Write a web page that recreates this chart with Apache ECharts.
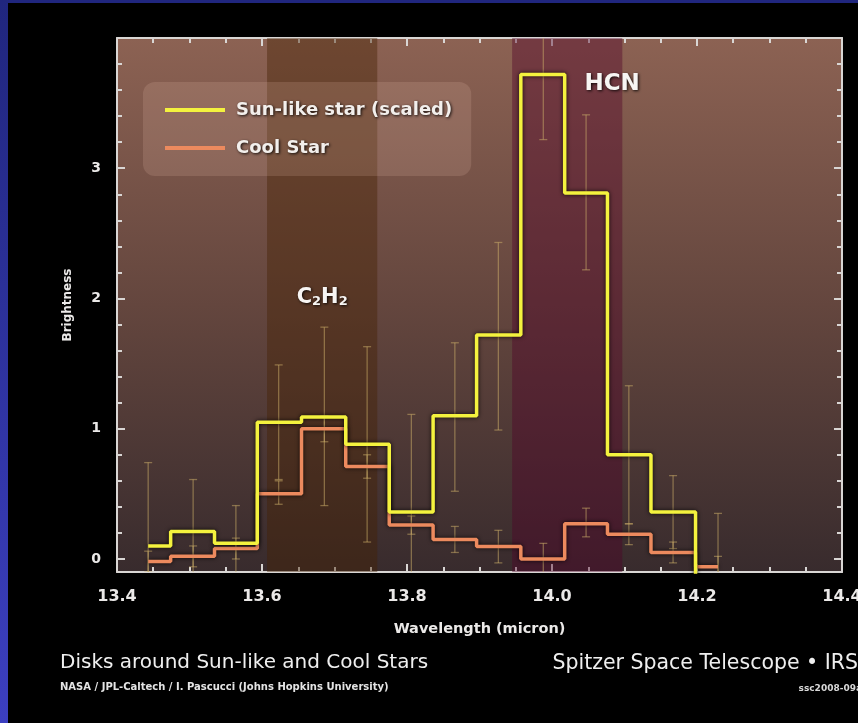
<!DOCTYPE html>
<html>
<head>
<meta charset="utf-8">
<script src="https://cdn.jsdelivr.net/npm/echarts@6/dist/echarts.min.js"></script>
<style>
html,body{margin:0;padding:0;background:#000;}
#c{width:858px;height:723px;}
</style>
</head>
<body>
<div id="c"></div>
<script>
// ---- data ----
const wavelength = [13.443, 13.505, 13.564, 13.623, 13.686, 13.745, 13.806, 13.866, 13.926, 13.988, 14.047, 14.106, 14.167, 14.229];
const sunLike    = [0.10, 0.21, 0.12, 1.05, 1.09, 0.88, 0.36, 1.10, 1.72, 3.72, 2.81, 0.80, 0.36, -0.30];
const coolStar   = [-0.02, 0.02, 0.08, 0.50, 1.00, 0.71, 0.26, 0.15, 0.095, 0.00, 0.27, 0.19, 0.05, -0.06];
const sunErrLow  = [-0.54, -0.19, -0.17, 0.61, 0.41, 0.13, -0.39, 0.52, 0.99, 3.22, 2.22, 0.27, 0.08, -0.95];
const sunErrHigh = [0.74, 0.61, 0.41, 1.49, 1.78, 1.63, 1.11, 1.66, 2.43, 4.22, 3.41, 1.33, 0.64, 0.35];
const coolErrLow  = [-0.10, -0.06, 0.00, 0.42, 0.90, 0.62, 0.19, 0.05, -0.03, -0.12, 0.17, 0.11, -0.03, -0.14];
const coolErrHigh = [0.06, 0.10, 0.16, 0.60, 1.10, 0.80, 0.33, 0.25, 0.22, 0.12, 0.39, 0.27, 0.13, 0.02];
const bandNames  = ['C2H2', 'HCN'];
const bandStart  = [13.607, 13.945];
const bandEnd    = [13.759, 14.097];
const xTickLabels = [13.4, 13.6, 13.8, 14.0, 14.2, 14.4];
const yTickLabels = [0, 1, 2, 3];
const yMinorTicks = [0.2, 0.4, 0.6, 0.8, 1.2, 1.4, 1.6, 1.8, 2.2, 2.4, 2.6, 2.8, 3.2, 3.4, 3.6, 3.8];
const seriesNames = ['Sun-like star (scaled)', 'Cool Star'];
const annotationText = ['HCN', 'C2H2'];
const annotationX = [14.083, 13.683];
const annotationY = [3.65, 2.01];

const FONT = "'DejaVu Sans', 'Liberation Sans', sans-serif";
const Y_MIN = -0.1, Y_MAX = 4.0;
const frameColor = '#d9d6d4';

const chart = echarts.init(document.getElementById('c'), null, {renderer: 'canvas'});

const bandColors = ['rgba(70,33,2,0.42)', 'rgba(80,0,40,0.40)'];
const bandData = bandStart.map((s, i) => [s, bandEnd[i], i]);
const sunErr = wavelength.map((w, i) => [w, sunErrLow[i], sunErrHigh[i]]);
const coolErr = wavelength.map((w, i) => [w, coolErrLow[i], coolErrHigh[i]]);

function errRender(color) {
  return function (params, api) {
    const x = api.value(0), lo = api.value(1), hi = api.value(2);
    const a = api.coord([x, lo]), b = api.coord([x, hi]);
    const cw = 4;
    const st = {stroke: color, lineWidth: 1.3};
    return {
      type: 'group',
      children: [
        {type: 'line', shape: {x1: a[0], y1: a[1], x2: b[0], y2: b[1]}, style: st},
        {type: 'line', shape: {x1: a[0] - cw, y1: a[1], x2: a[0] + cw, y2: a[1]}, style: st},
        {type: 'line', shape: {x1: b[0] - cw, y1: b[1], x2: b[0] + cw, y2: b[1]}, style: st}
      ]
    };
  };
}

const axisLineStyle = {show: true, onZero: false, lineStyle: {color: frameColor, width: 2}};
const shadow = {textShadowColor: 'rgba(0,0,0,0.85)', textShadowBlur: 3, textShadowOffsetX: 1, textShadowOffsetY: 1};

const yAxisCommon = {type: 'value', min: Y_MIN, max: Y_MAX, splitLine: {show: false}};

const option = {
  backgroundColor: '#000',
  animation: false,
  grid: {
    left: 117, top: 38, width: 725, height: 534,
    containLabel: false, outerBoundsMode: 'none',
    show: true, borderWidth: 0,
    backgroundColor: new echarts.graphic.LinearGradient(0, 0, 0, 1, [
      {offset: 0, color: 'rgb(140,98,83)'},
      {offset: 0.5, color: 'rgb(100,70,62)'},
      {offset: 1, color: 'rgb(56,43,45)'}
    ])
  },
  legend: {
    data: seriesNames,
    orient: 'vertical',
    left: 143, top: 82,
    padding: [18, 19, 18, 22],
    icon: 'rect',
    itemWidth: 60, itemHeight: 4, itemGap: 18,
    backgroundColor: 'rgba(235,195,175,0.17)',
    borderRadius: 12,
    selectedMode: false,
    textStyle: Object.assign({
      color: '#f3efec', fontSize: 18, fontWeight: 'bold', fontFamily: FONT, lineHeight: 20, padding: [0, 0, 0, 6]
    }, shadow)
  },
  xAxis: [
    {
      type: 'value', min: 13.4, max: 14.4, interval: 0.2, position: 'bottom',
      axisLine: axisLineStyle,
      axisTick: {show: true, inside: true, length: 8, lineStyle: {color: frameColor, width: 2}},
      minorTick: {show: true, splitNumber: 4, length: 5, lineStyle: {color: frameColor, width: 2}},
      splitLine: {show: false},
      axisLabel: {
        color: '#ebe9e8', fontSize: 16, fontWeight: 'bold', fontFamily: FONT, margin: 17,
        formatter: v => xTickLabels.find(t => Math.abs(t - v) < 1e-6) !== undefined ? v.toFixed(1) : ''
      },
      name: 'Wavelength (micron)', nameLocation: 'middle', nameGap: 50,
      nameTextStyle: {color: '#ebe9e8', fontSize: 14.5, fontWeight: 'bold', fontFamily: FONT}
    },
    {
      type: 'value', min: 13.4, max: 14.4, interval: 0.2, position: 'top',
      axisLine: axisLineStyle,
      axisTick: {show: true, inside: true, length: 8, lineStyle: {color: frameColor, width: 2}},
      minorTick: {show: true, splitNumber: 4, length: 5, lineStyle: {color: frameColor, width: 2}},
      splitLine: {show: false},
      axisLabel: {show: false}
    }
  ],
  yAxis: [
    Object.assign({}, yAxisCommon, {
      position: 'left',
      axisLine: axisLineStyle,
      axisTick: {show: true, inside: true, length: 8, customValues: yTickLabels, lineStyle: {color: frameColor, width: 2}},
      axisLabel: {
        show: true, customValues: yTickLabels, color: '#ebe9e8', fontSize: 14, fontWeight: 'bold',
        fontFamily: FONT, margin: 16, formatter: v => String(Math.round(v))
      },
      name: 'Brightness', nameLocation: 'middle', nameGap: 43, nameRotate: 90,
      nameTextStyle: {color: '#ebe9e8', fontSize: 12, fontWeight: 'bold', fontFamily: FONT}
    }),
    Object.assign({}, yAxisCommon, {
      position: 'left', offset: 0,
      axisLine: {show: false, onZero: false},
      axisTick: {show: true, inside: true, length: 5, customValues: yMinorTicks, lineStyle: {color: frameColor, width: 2}},
      axisLabel: {show: false}
    }),
    Object.assign({}, yAxisCommon, {
      position: 'right',
      axisLine: axisLineStyle,
      axisTick: {show: true, inside: true, length: 8, customValues: yTickLabels, lineStyle: {color: frameColor, width: 2}},
      axisLabel: {show: false}
    }),
    Object.assign({}, yAxisCommon, {
      position: 'right', offset: 0,
      axisLine: {show: false, onZero: false},
      axisTick: {show: true, inside: true, length: 5, customValues: yMinorTicks, lineStyle: {color: frameColor, width: 2}},
      axisLabel: {show: false}
    })
  ],
  series: [
    {
      type: 'custom', name: 'bands', z: 1, clip: true, silent: true,
      data: bandData,
      renderItem: function (params, api) {
        const p0 = api.coord([api.value(0), Y_MAX]);
        const p1 = api.coord([api.value(1), Y_MIN]);
        return {
          type: 'rect',
          shape: {x: p0[0], y: p0[1], width: p1[0] - p0[0], height: p1[1] - p0[1]},
          style: {fill: bandColors[api.value(2)]}
        };
      }
    },
    {
      type: 'custom', name: 'sunErr', z: 2, clip: true, silent: true,
      data: sunErr, encode: {x: 0, y: [1, 2]},
      renderItem: errRender('rgba(205,175,105,0.5)')
    },
    {
      type: 'custom', name: 'coolErr', z: 2, clip: true, silent: true,
      data: coolErr, encode: {x: 0, y: [1, 2]},
      renderItem: errRender('rgba(205,175,105,0.5)')
    },
    {
      type: 'line', name: seriesNames[1], z: 3, step: 'middle', symbol: 'none', clip: true,
      data: wavelength.map((w, i) => [w, coolStar[i]]),
      lineStyle: {color: '#ec8a5e', width: 3.5, shadowColor: 'rgba(0,0,0,0.8)', shadowBlur: 4},
      itemStyle: {color: '#ec8a5e'}
    },
    {
      type: 'line', name: seriesNames[0], z: 4, step: 'middle', symbol: 'none', clip: true,
      data: wavelength.map((w, i) => [w, sunLike[i]]),
      lineStyle: {color: '#f4f23e', width: 3.5, shadowColor: 'rgba(0,0,0,0.85)', shadowBlur: 4},
      itemStyle: {color: '#f4f23e'},
      markPoint: {
        symbol: 'circle', symbolSize: 0, silent: true,
        label: Object.assign({
          show: true, position: 'inside', color: '#f7f5f3', fontFamily: FONT, fontWeight: 'bold',
          rich: {
            big: Object.assign({fontSize: 21, fontWeight: 'bold', fontFamily: FONT, color: '#f7f5f3'}, shadow),
            hcn: Object.assign({fontSize: 23, fontWeight: 'bold', fontFamily: FONT, color: '#f7f5f3'}, shadow),
            sub: Object.assign({fontSize: 13, fontWeight: 'bold', fontFamily: FONT, color: '#f7f5f3', padding: [9, 0, 0, 0]}, shadow)
          },
          formatter: function (p) {
            if (p.name === 'C2H2') return '{big|C}{sub|2}{big|H}{sub|2}';
            return '{hcn|' + p.name + '}';
          }
        }, shadow),
        data: annotationText.map((t, i) => ({name: t, coord: [annotationX[i], annotationY[i]]}))
      }
    }
  ],
  graphic: [
    {type: 'rect', left: 0, top: 0, shape: {width: 858, height: 3}, style: {fill: '#20267e'}, z: 100},
    {type: 'rect', left: 0, top: 0, shape: {width: 8, height: 723},
      style: {fill: new echarts.graphic.LinearGradient(0, 0, 0, 1, [
        {offset: 0, color: '#20267e'}, {offset: 1, color: '#3c3fc0'}])}, z: 100},
    {type: 'text', left: 60, top: 653, z: 100,
      style: {text: 'Disks around Sun-like and Cool Stars', fill: '#efefef', font: '20px ' + FONT}},
    {type: 'text', left: 60, top: 682, z: 100,
      style: {text: 'NASA / JPL-Caltech / I. Pascucci (Johns Hopkins University)', fill: '#e4e4e4', font: 'bold 10px ' + FONT}},
    {type: 'text', right: 0, top: 653, z: 100,
      style: {text: 'Spitzer Space Telescope \u2022 IRS', fill: '#efefef', font: '20.5px ' + FONT}},
    {type: 'text', right: -4, top: 684, z: 100,
      style: {text: 'ssc2008-09a', fill: '#d8d8d8', font: 'bold 9px ' + FONT}}
  ]
};

chart.setOption(option);
</script>
</body>
</html>
